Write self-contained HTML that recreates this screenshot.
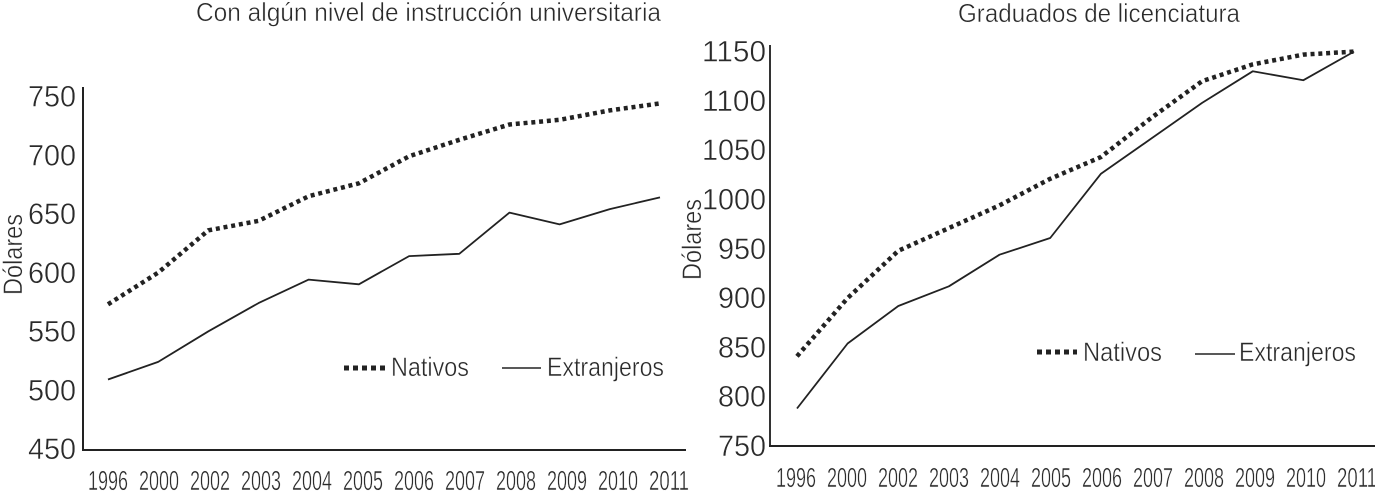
<!DOCTYPE html>
<html lang="es">
<head>
<meta charset="utf-8">
<title>Salarios de nativos y extranjeros</title>
<style>
html,body{margin:0;padding:0;background:#fff;width:1375px;height:491px;overflow:hidden}
svg{display:block}
text{font-family:"Liberation Sans",sans-serif;fill:#2a2a2a;stroke:#fff;stroke-width:.45px;paint-order:fill stroke}
</style>
</head>
<body>
<svg id="figure" xmlns="http://www.w3.org/2000/svg" width="1375" height="491" viewBox="0 0 1375 491">
  <g id="left-chart">
    <text x="196" y="21" font-size="26" textLength="465" lengthAdjust="spacingAndGlyphs">Con algún nivel de instrucción universitaria</text>
    <text transform="translate(22,295) rotate(-90)" font-size="27" textLength="81" lengthAdjust="spacingAndGlyphs">Dólares</text>
    <line x1="83" y1="87" x2="83" y2="451" stroke="#222" stroke-width="2"/>
    <line x1="82" y1="450" x2="686" y2="450" stroke="#222" stroke-width="2"/>
    <g>
      <line x1="344" y1="368" x2="385" y2="368" stroke="#222" stroke-width="5" stroke-dasharray="5 4"/>
      <text x="391" y="376" font-size="27" textLength="78" lengthAdjust="spacingAndGlyphs">Nativos</text>
      <line x1="502" y1="368" x2="541" y2="368" stroke="#222" stroke-width="1.6"/>
      <text x="547" y="376" font-size="27" textLength="117" lengthAdjust="spacingAndGlyphs">Extranjeros</text>
    </g>
  </g>
  <g id="right-chart">
    <text x="958" y="22" font-size="26" textLength="282" lengthAdjust="spacingAndGlyphs">Graduados de licenciatura</text>
    <text transform="translate(701,280) rotate(-90)" font-size="27" textLength="81" lengthAdjust="spacingAndGlyphs">Dólares</text>
    <line x1="770" y1="45" x2="770" y2="447" stroke="#333" stroke-width="2"/>
    <line x1="769" y1="446" x2="1375" y2="446" stroke="#222" stroke-width="2"/>
    <g>
      <line x1="1037" y1="352" x2="1077" y2="352" stroke="#222" stroke-width="5" stroke-dasharray="5 4"/>
      <text x="1083" y="361" font-size="27" textLength="79" lengthAdjust="spacingAndGlyphs">Nativos</text>
      <line x1="1195" y1="354" x2="1235" y2="354" stroke="#222" stroke-width="1.6"/>
      <text x="1239" y="361" font-size="27" textLength="117" lengthAdjust="spacingAndGlyphs">Extranjeros</text>
    </g>
  </g>
</svg>
<script>
const categories = ['1996','2000','2002','2003','2004','2005','2006','2007','2008','2009','2010','2011'];

const leftTicks = [450,500,550,600,650,700,750];
const leftNativos = [574,601,637,645,666,677,700,714,727,731,739,745];
const leftExtranjeros = [510,525,551,575,595,591,615,617,652,642,655,665];

const rightTicks = [750,800,850,900,950,1000,1050,1100,1150];
const rightNativos = [841,900,948,971,994,1021,1043,1083,1120,1137,1147,1150];
const rightExtranjeros = [788,854,892,912,944,961,1026,1062,1098,1130,1121,1150];

const SVG_NS = 'http://www.w3.org/2000/svg';

function drawSeries(group, xScale, yScale, values, name, dotted) {
  const path = document.createElementNS(SVG_NS, 'path');
  
  
  path.setAttribute('d', values.map(function (v, i) {
    return (i ? 'L' : 'M') + xScale(i).toFixed(1) + ' ' + yScale(v).toFixed(1);
  }).join(' '));
  path.setAttribute('fill', 'none');
  path.setAttribute('stroke', '#222');
  path.setAttribute('stroke-linejoin', 'round');
  if (dotted) {
    path.setAttribute('stroke-width', '4.5');
    path.setAttribute('stroke-dasharray', '4 3.8');
  } else {
    path.setAttribute('stroke-width', '1.8');
  }
  group.appendChild(path);
}

function drawYTicks(group, yScale, ticks, rightEdge, offset, prefix) {
  ticks.forEach(function (t) {
    const label = document.createElementNS(SVG_NS, 'text');
    
    
    label.setAttribute('x', rightEdge);
    label.setAttribute('y', (yScale(t) + offset).toFixed(1));
    label.setAttribute('text-anchor', 'end');
    label.setAttribute('font-size', '30');
    label.setAttribute('textLength', String(t).length * 16);
    label.setAttribute('lengthAdjust', 'spacingAndGlyphs');
    label.textContent = t;
    group.appendChild(label);
  });
}

function drawXTicks(group, labelX, baseline, prefix) {
  categories.forEach(function (c, i) {
    const label = document.createElementNS(SVG_NS, 'text');
    
    
    label.setAttribute('x', labelX(i));
    label.setAttribute('y', baseline);
    label.setAttribute('text-anchor', 'middle');
    label.setAttribute('font-size', '28');
    label.setAttribute('textLength', '40');
    label.setAttribute('lengthAdjust', 'spacingAndGlyphs');
    label.textContent = c;
    group.appendChild(label);
  });
}

const leftGroup = document.getElementById('left-chart');
const leftX = function (i) { return 108 + i * (660 - 108) / (categories.length - 1); };
const leftY = function (v) { return 450 - (v - 450) * 1.175; };
drawYTicks(leftGroup, leftY, leftTicks, 76, 9, 'left');
drawXTicks(leftGroup, function (i) { return 108 + i * 51; }, 490, 'left');
drawSeries(leftGroup, leftX, leftY, leftNativos, 'left-series-nativos', true);
drawSeries(leftGroup, leftX, leftY, leftExtranjeros, 'left-series-extranjeros', false);

const rightGroup = document.getElementById('right-chart');
const rightX = function (i) { return 797 + i * (1354 - 797) / (categories.length - 1); };
const rightY = function (v) { return 446 - (v - 750) * 0.986; };
drawYTicks(rightGroup, rightY, rightTicks, 766, 10, 'right');
drawXTicks(rightGroup, function (i) { return 796 + i * 51; }, 487, 'right');
drawSeries(rightGroup, rightX, rightY, rightNativos, 'right-series-nativos', true);
drawSeries(rightGroup, rightX, rightY, rightExtranjeros, 'right-series-extranjeros', false);
</script>
</body>
</html>
